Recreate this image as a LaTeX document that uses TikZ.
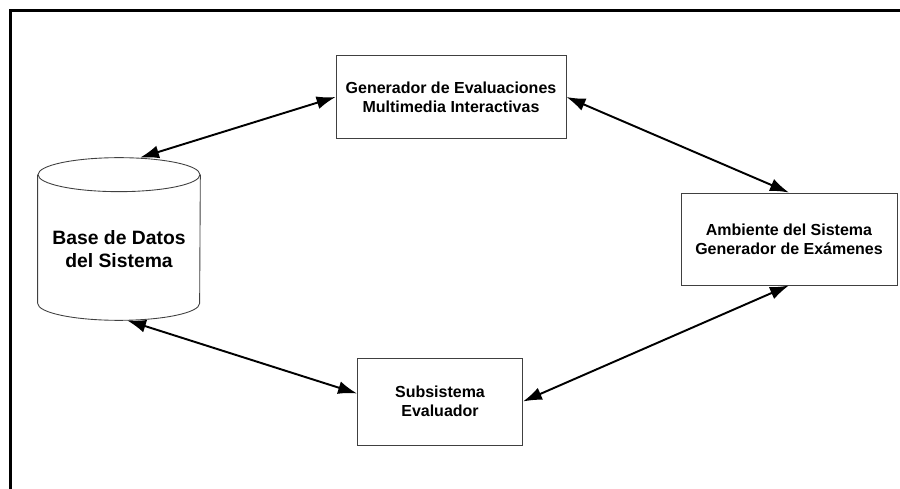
\documentclass[tikz,border=0pt]{standalone}
\usepackage{fontspec}
\setmainfont{Liberation Sans}
\usetikzlibrary{arrows.meta, positioning, calc}

\begin{document}
\begin{tikzpicture}[
        x=0.02cm, y=-0.02cm,
        box/.style={
            rectangle, draw=black!75, line width=0.5pt,
            align=center, inner sep=0pt,
            font=\fontsize{9.1}{10.6}\selectfont\bfseries
        },
        dbbody/.style={
            rectangle, inner sep=0pt,
            minimum width=3.24cm, minimum height=3.24cm
        },
        dbline/.style={draw=black!75, line width=0.5pt},
        dbtext/.style={
            align=center, inner sep=0pt,
            font=\fontsize{11}{13}\selectfont\bfseries
        },
        arrow/.style={{Latex[length=0.38cm,width=0.26cm]}-{Latex[length=0.38cm,width=0.26cm]}, line width=1.1pt},
        frame/.style={line width=2pt}
    ]
    \useasboundingbox (0,0) rectangle (900,489);

    % FRAME
    \draw[frame] (10.5,489) -- (10.5,10.5) -- (900,10.5);

    % DATABASE
    \node[dbbody] (db) at (119,239) {};
    \draw[dbline] ([yshift=-0.34cm]db.north west)
        -- ([yshift=0.34cm]db.south west)
        arc[start angle=180, end angle=360, x radius=1.62cm, y radius=0.34cm]
        -- ([yshift=-0.34cm]db.north east);
    \draw[dbline] ([yshift=-0.34cm]db.north) ellipse [x radius=1.62cm, y radius=0.34cm];
    \node[dbtext] (dblabel) at ([yshift=-0.2cm]db.center) {Base de Datos\\del Sistema};

    % GENERATOR
    \node[box, minimum width=4.6cm, minimum height=1.66cm] (gen) at (451,97)
        {Generador de Evaluaciones\\Multimedia Interactivas};

    % ENVIRONMENT
    \node[box, minimum width=4.32cm, minimum height=1.84cm] (amb) at (789,239)
        {Ambiente del Sistema\\Generador de Exámenes};

    % EVALUATOR
    \node[box, minimum width=3.3cm, minimum height=1.74cm] (sub) at (440,401.5)
        {Subsistema\\Evaluador};

    % ARROWS
    \draw[arrow] ([xshift=0.42cm]db.north) -- (gen.west);
    \draw[arrow] (gen.east) -- (amb.north);
    \draw[arrow] ([xshift=0.16cm]db.south) -- ([yshift=0.16cm]sub.west);
    \draw[arrow] (sub.east) -- (amb.south);

\end{tikzpicture}
\end{document}
